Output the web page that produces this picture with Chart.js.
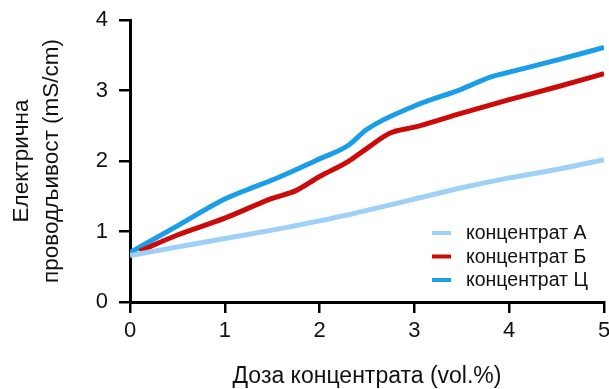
<!DOCTYPE html>
<html>
<head>
<meta charset="utf-8">
<script src="https://cdn.jsdelivr.net/npm/chart.js@4"></script>
<style>
  html, body { margin: 0; padding: 0; background: #fff; }
  #wrap { width: 609px; height: 389px; position: relative; }
</style>
</head>
<body>
<div id="wrap"><canvas id="chart"></canvas></div>
<script>
// conductivity vs. concentrate dose
const SERIES_LABELS = ['концентрат А', 'концентрат Б', 'концентрат Ц'];
const SERIES_COLORS = ['#9fd0f7', '#cc0a0a', '#1b9ee8'];

const doseA = [0, 0.5, 1, 1.5, 2, 2.5, 3, 3.5, 4, 4.5, 5];
const valuesA = [0.66, 0.78, 0.90, 1.02, 1.15, 1.30, 1.46, 1.62, 1.76, 1.88, 2.02];

const doseB = [0.1, 0.5, 1, 1.5, 1.75, 2, 2.3, 2.5, 2.75, 3, 3.5, 4, 4.5, 5];
const valuesB = [0.72, 0.95, 1.19, 1.47, 1.58, 1.78, 1.99, 2.18, 2.40, 2.48, 2.68, 2.87, 3.05, 3.24];

const doseC = [0, 0.5, 1, 1.25, 1.5, 2, 2.3, 2.5, 3, 3.5, 3.8, 4, 4.5, 5];
const valuesC = [0.70, 1.08, 1.46, 1.60, 1.73, 2.03, 2.22, 2.45, 2.78, 3.02, 3.19, 3.26, 3.43, 3.61];

const X_TICKS = [0, 1, 2, 3, 4, 5];
const Y_TICKS = [0, 1, 2, 3, 4];

const FONT = "'Liberation Sans', Arial, sans-serif";

function toPoints(xs, ys) {
  return xs.map((x, i) => ({ x, y: ys[i] }));
}

const datasets = [[doseA, valuesA], [doseB, valuesB], [doseC, valuesC]].map(([xs, ys], i) => ({
  label: SERIES_LABELS[i],
  data: toPoints(xs, ys),
  borderColor: SERIES_COLORS[i],
  backgroundColor: SERIES_COLORS[i],
  borderWidth: 5,
  pointRadius: 0,
  tension: 0.4,
  cubicInterpolationMode: 'monotone'
}));

// legend drawn inside the plot, bottom right
const insideLegend = {
  id: 'insideLegend',
  afterDatasetsDraw(chart) {
    const ctx = chart.ctx;
    const x0 = 432, y0 = 233, step = 23.5;
    ctx.save();
    ctx.font = '19.5px ' + FONT;
    ctx.textBaseline = 'middle';
    chart.data.datasets.forEach((ds, i) => {
      const y = y0 + i * step;
      ctx.strokeStyle = ds.borderColor;
      ctx.lineWidth = 4;
      ctx.beginPath();
      ctx.moveTo(x0, y);
      ctx.lineTo(x0 + 19, y);
      ctx.stroke();
      ctx.fillStyle = '#111';
      ctx.fillText(ds.label, x0 + 34, y + 1);
    });
    ctx.restore();
  }
};

const axisGrid = {
  drawOnChartArea: false,
  drawTicks: true,
  color: '#000',
  tickColor: '#000',
  tickWidth: 2.5,
  lineWidth: 2.5,
  tickLength: 11
};

new Chart(document.getElementById('chart'), {
  type: 'line',
  data: { datasets },
  plugins: [insideLegend],
  options: {
    responsive: true,
    maintainAspectRatio: false,
    animation: false,
    layout: { padding: { top: 20, right: 5 } },
    plugins: { legend: { display: false }, tooltip: { enabled: false } },
    scales: {
      x: {
        type: 'linear',
        min: 0, max: 5,
        afterFit: (s) => { s.height = 87; s.paddingRight = 0; s.paddingLeft = 0; },
        afterBuildTicks: (s) => { s.ticks = X_TICKS.map(v => ({ value: v })); },
        border: { color: '#000', width: 3 },
        grid: axisGrid,
        ticks: { color: '#111', font: { family: FONT, size: 22 }, padding: 5 },
        title: {
          display: true,
          text: 'Доза концентрата (vol.%)',
          color: '#111',
          font: { family: FONT, size: 23 },
          padding: { top: 0, bottom: -1 }
        }
      },
      y: {
        type: 'linear',
        min: 0, max: 4,
        afterFit: (s) => { s.width = 130; s.paddingTop = 0; s.paddingBottom = 0; },
        afterBuildTicks: (s) => { s.ticks = Y_TICKS.map(v => ({ value: v })); },
        border: { color: '#000', width: 3 },
        grid: axisGrid,
        ticks: { color: '#111', font: { family: FONT, size: 22 }, padding: 11 },
        title: {
          display: true,
          text: ['Електрична', 'проводљивост (mS/cm)'],
          color: '#111',
          font: { family: FONT, size: 22.5, lineHeight: 1.33 },
          padding: { top: 7, bottom: 0 }
        }
      }
    }
  }
});
</script>
</body>
</html>
